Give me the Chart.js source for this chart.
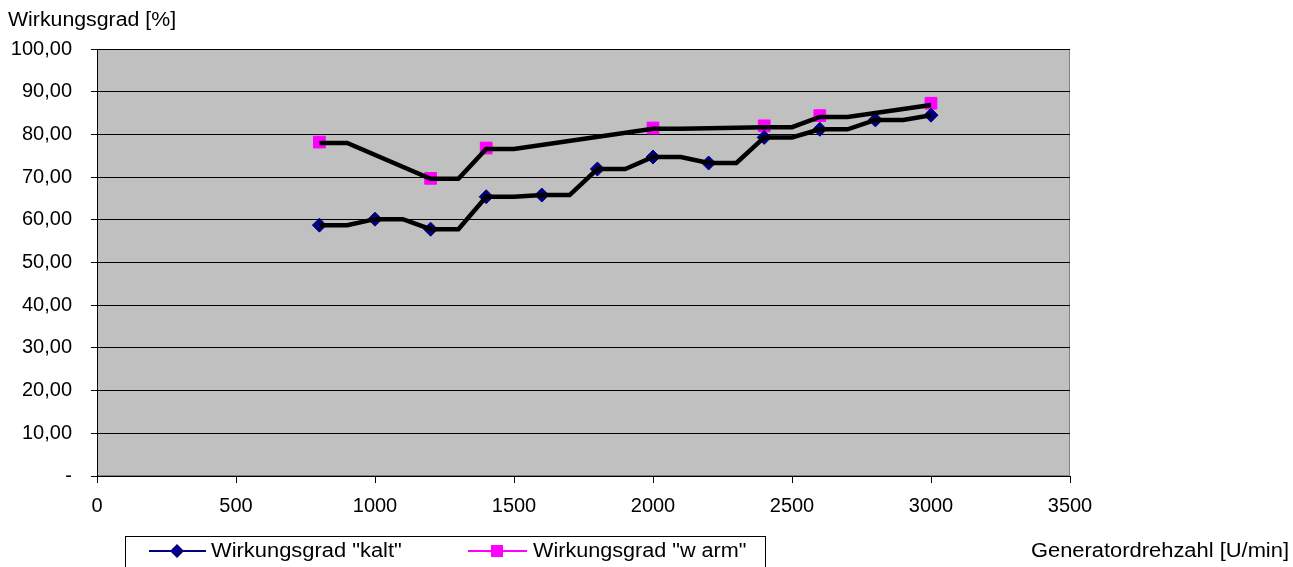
<!DOCTYPE html>
<html>
<head>
<meta charset="utf-8">
<script src="https://cdn.jsdelivr.net/npm/chart.js@4"></script>
<style>
  html, body { margin: 0; padding: 0; background: #fff; }
  #wrap { width: 1293px; height: 567px; }
</style>
</head>
<body>
<div id="wrap"><canvas id="chart"></canvas></div>
<script>
// measured points
const rpmKalt = [800, 1000, 1200, 1400, 1600, 1800, 2000, 2200, 2400, 2600, 2800, 3000];
const effKalt = [58.75, 60.15, 57.8, 65.4, 65.8, 71.9, 74.7, 73.3, 79.3, 81.2, 83.4, 84.5];
const rpmWarm = [800, 1200, 1400, 2000, 2400, 2600, 3000];
const effWarm = [78.2, 69.7, 76.8, 81.5, 82.0, 84.4, 87.3];

// black curves
const lineKaltX = [800, 900, 1000, 1100, 1200, 1300, 1400, 1500, 1600, 1700, 1800, 1900,
                   2000, 2100, 2200, 2300, 2400, 2500, 2600, 2700, 2800, 2900, 3000];
const lineKaltY = [58.75, 58.75, 60.15, 60.15, 57.8, 57.8, 65.4, 65.4, 65.8, 65.8, 71.9, 71.9,
                   74.7, 74.7, 73.3, 73.3, 79.3, 79.3, 81.2, 81.2, 83.4, 83.4, 84.5];
const lineWarmX = [800, 900, 1200, 1300, 1400, 1500, 2000, 2100, 2400, 2500, 2600, 2700, 3000];
const lineWarmY = [78.0, 78.0, 69.6, 69.6, 76.6, 76.6, 81.3, 81.3, 81.7, 81.7, 84.1, 84.1, 86.9];

const yTicks = [0, 10, 20, 30, 40, 50, 60, 70, 80, 90, 100];
const xTicks = [0, 500, 1000, 1500, 2000, 2500, 3000, 3500];

const seriesNames = ['Wirkungsgrad "kalt"', 'Wirkungsgrad "w arm"'];
const yTitle = 'Wirkungsgrad [%]';
const xTitle = 'Generatordrehzahl [U/min]';

const FONT = '"Liberation Sans", Arial, sans-serif';
const NAVY = '#000080';
const MAGENTA = '#FF00FF';

function pts(xs, ys) {
  return xs.map((x, i) => ({ x: x, y: ys[i] }));
}

// excel text comes out a bit wider than the font, so stretch it sideways
function wideText(ctx, text, x, y, sx, align) {
  const w = ctx.measureText(text).width * sx;
  const left = align === 'right' ? x - w : x;
  ctx.save();
  ctx.textAlign = 'left';
  ctx.translate(left, y);
  ctx.scale(sx, 1);
  ctx.fillText(text, 0, 0);
  ctx.restore();
}

const plotBg = {
  id: 'plotBg',
  beforeDraw(chart) {
    const { ctx, chartArea: a } = chart;
    ctx.save();
    ctx.fillStyle = '#C0C0C0';
    ctx.fillRect(a.left, a.top, a.right - a.left, a.bottom - a.top);
    ctx.strokeStyle = '#808080';
    ctx.lineWidth = 1;
    ctx.strokeRect(a.left + 0.5, a.top + 0.5, a.right - a.left - 1, a.bottom - a.top - 1);
    ctx.restore();
  }
};

const extras = {
  id: 'extras',
  afterDraw(chart) {
    const ctx = chart.ctx;
    ctx.save();
    ctx.fillStyle = '#000';
    ctx.font = '20px ' + FONT;
    ctx.textBaseline = 'middle';
    wideText(ctx, yTitle, 8, 20, 1.065, 'left');
    wideText(ctx, xTitle, 1289, 551, 1.095, 'right');

    // legend box
    ctx.strokeStyle = '#000';
    ctx.lineWidth = 1;
    ctx.strokeRect(125.5, 536.5, 640, 40);
    const ly = 551;
    // kalt
    ctx.strokeStyle = NAVY;
    ctx.lineWidth = 2;
    ctx.beginPath(); ctx.moveTo(149, ly); ctx.lineTo(206, ly); ctx.stroke();
    ctx.fillStyle = NAVY;
    ctx.beginPath();
    ctx.moveTo(177, ly - 7); ctx.lineTo(184, ly); ctx.lineTo(177, ly + 7); ctx.lineTo(170, ly);
    ctx.closePath(); ctx.fill();
    // warm
    ctx.strokeStyle = MAGENTA;
    ctx.beginPath(); ctx.moveTo(468, ly); ctx.lineTo(527, ly); ctx.stroke();
    ctx.fillStyle = MAGENTA;
    ctx.fillRect(491, ly - 6, 12, 12);

    ctx.fillStyle = '#000';
    wideText(ctx, seriesNames[0], 211, ly, 1.095, 'left');
    wideText(ctx, seriesNames[1], 533, ly, 1.08, 'left');
    ctx.restore();
  }
};

new Chart(document.getElementById('chart').getContext('2d'), {
  type: 'scatter',
  data: {
    datasets: [
      {
        label: 'Linie kalt',
        data: pts(lineKaltX, lineKaltY),
        showLine: true,
        borderColor: '#000',
        borderWidth: 4.5,
        pointRadius: 0,
        tension: 0,
        order: 0
      },
      {
        label: 'Linie warm',
        data: pts(lineWarmX, lineWarmY),
        showLine: true,
        borderColor: '#000',
        borderWidth: 4.5,
        pointRadius: 0,
        tension: 0,
        order: 0
      },
      {
        label: seriesNames[0],
        data: pts(rpmKalt, effKalt),
        showLine: false,
        pointStyle: 'rectRot',
        pointRadius: 7,
        backgroundColor: NAVY,
        borderColor: NAVY,
        borderWidth: 1,
        order: 1
      },
      {
        label: seriesNames[1],
        data: pts(rpmWarm, effWarm),
        showLine: false,
        pointStyle: 'rect',
        pointRadius: 8.3,
        backgroundColor: MAGENTA,
        borderColor: MAGENTA,
        borderWidth: 1,
        order: 1
      }
    ]
  },
  options: {
    responsive: true,
    maintainAspectRatio: false,
    devicePixelRatio: 1,
    animation: false,
    layout: { padding: { top: 49, right: 223, left: 0, bottom: 0 } },
    plugins: {
      legend: { display: false },
      tooltip: { enabled: false }
    },
    scales: {
      x: {
        type: 'linear',
        min: 0,
        max: 3500,
        afterBuildTicks(s) { s.ticks = xTicks.map(v => ({ value: v })); },
        afterFit(s) { s.height = 91; },
        grid: { drawOnChartArea: false, color: '#000', tickLength: 7 },
        border: { color: '#000', width: 1 },
        ticks: {
          color: '#000',
          font: { family: FONT, size: 20 },
          padding: 11,
          maxRotation: 0,
          callback: v => String(v)
        }
      },
      y: {
        min: 0,
        max: 100,
        afterBuildTicks(s) { s.ticks = yTicks.map(v => ({ value: v })); },
        afterFit(s) { s.width = 97; },
        grid: { color: '#000', tickLength: 6 },
        border: { color: '#000', width: 1 },
        ticks: {
          color: '#000',
          font: { family: FONT, size: 20 },
          padding: 19,
          callback: v => v === 0 ? '-' : v.toFixed(2).replace('.', ',')
        }
      }
    }
  },
  plugins: [plotBg, extras]
});
</script>
</body>
</html>
